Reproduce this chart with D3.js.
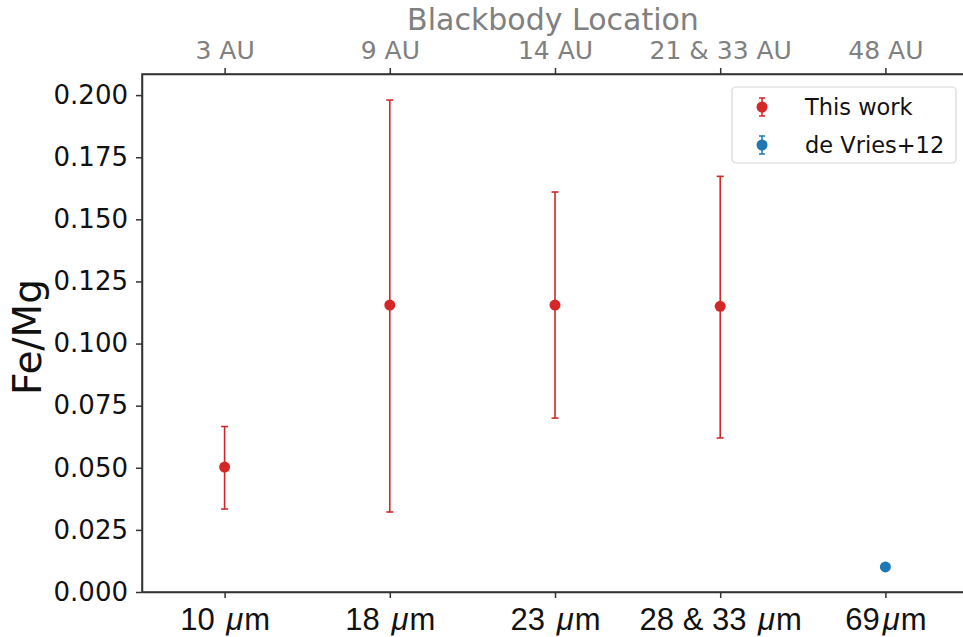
<!DOCTYPE html>
<html>
<head>
<meta charset="utf-8">
<script src="https://cdn.jsdelivr.net/npm/d3@7"></script>
<style>
	body { margin: 0; background: #fff; }
	svg { display: block; font-family: "DejaVu Sans", sans-serif; }
</style>
</head>
<body>
<div id="chart"></div>
<script>
// bands: wavelength + blackbody location
const bandLabels = ["10", "18", "23", "28 & 33", "69"];
const auLabels = ["3 AU", "9 AU", "14 AU", "21 & 33 AU", "48 AU"];

// Fe/Mg, this work
const workIdx = [0, 1, 2, 3];
const workVal = [0.0503, 0.1155, 0.1155, 0.1150];
const workLow = [0.0334, 0.0322, 0.0700, 0.0620];
const workHigh = [0.0666, 0.1980, 0.1610, 0.1673];

// de Vries+12
const dvIdx = [4];
const dvVal = [0.0101];

const yTicks = [0, 0.025, 0.05, 0.075, 0.1, 0.125, 0.15, 0.175, 0.2];

const red = "#d62728";
const blue = "#1f77b4";
const width = 963, height = 637;
const plot = { left: 142, top: 74, right: 968, bottom: 592 };

const svg = d3.select("#chart").append("svg")
		.attr("width", width)
		.attr("height", height);

const x = d3.scaleLinear()
		.domain([-0.5, 4.5])
		.range([plot.left, plot.right]);

const y = d3.scaleLinear()
		.domain([0, 0.2085])
		.range([plot.bottom, plot.top]);

// axes
const bottomAxis = svg.append("g")
		.attr("transform", `translate(0, ${plot.bottom})`)
		.call(d3.axisBottom(x).tickValues(d3.range(5)).tickSize(6).tickSizeOuter(0).tickFormat(""));

bottomAxis.selectAll(".tick")
	.append("text")
		.attr("y", 38)
		.attr("text-anchor", "middle")
		.attr("fill", "#111")
		.style("font-size", "31px")
		.each(function(d) {
			const t = d3.select(this);
			t.append("tspan").text(bandLabels[d] + (d === 4 ? "" : " "));
			t.append("tspan").attr("dx", 3).style("font-style", "italic").text("\u03bc");
			t.append("tspan").attr("dx", 1).text("m");
		});

const topAxis = svg.append("g")
		.attr("transform", `translate(0, ${plot.top})`)
		.call(d3.axisTop(x).tickValues(d3.range(5)).tickSize(6).tickSizeOuter(0)
			.tickFormat((d) => auLabels[d]));

topAxis.selectAll("text")
		.attr("y", -15)
		.attr("fill", "#808080")
		.style("font-size", "25px")
		.style("font-family", "DejaVu Sans");

const leftAxis = svg.append("g")
		.attr("transform", `translate(${plot.left}, 0)`)
		.call(d3.axisLeft(y).tickValues(yTicks).tickSize(6).tickSizeOuter(0)
			.tickFormat(d3.format(".3f")));

leftAxis.selectAll("text")
		.attr("x", -14)
		.attr("fill", "#111")
		.style("font-size", "26px")
		.style("font-family", "DejaVu Sans");

svg.selectAll(".domain, .tick line")
		.attr("stroke", "#333")
		.attr("stroke-width", 1.5);

// spines
svg.append("rect")
		.attr("x", plot.left)
		.attr("y", plot.top)
		.attr("width", plot.right - plot.left)
		.attr("height", plot.bottom - plot.top)
		.attr("fill", "none")
		.attr("stroke", "#333")
		.attr("stroke-width", 1.5);

// titles
svg.append("text")
		.attr("x", 553)
		.attr("y", 30)
		.attr("text-anchor", "middle")
		.attr("fill", "#808080")
		.style("font-size", "30px")
		.text("Blackbody Location");

svg.append("text")
		.attr("transform", "translate(41, 337) rotate(-90)")
		.attr("text-anchor", "middle")
		.attr("fill", "#111")
		.style("font-size", "39px")
		.text("Fe/Mg");

// error bars
const bars = svg.append("g")
		.selectAll("g")
		.data(workIdx).enter()
	.append("g")
		.attr("stroke", red)
		.attr("stroke-width", 1.6);

bars.append("line")
		.attr("x1", (d) => x(d)).attr("x2", (d) => x(d))
		.attr("y1", (d, i) => y(workLow[i]))
		.attr("y2", (d, i) => y(workHigh[i]));

bars.append("line")
		.attr("x1", (d) => x(d) - 3.5).attr("x2", (d) => x(d) + 3.5)
		.attr("y1", (d, i) => y(workLow[i])).attr("y2", (d, i) => y(workLow[i]));

bars.append("line")
		.attr("x1", (d) => x(d) - 3.5).attr("x2", (d) => x(d) + 3.5)
		.attr("y1", (d, i) => y(workHigh[i])).attr("y2", (d, i) => y(workHigh[i]));

svg.append("g")
		.selectAll("circle")
		.data(workIdx).enter()
	.append("circle")
		.attr("cx", (d) => x(d))
		.attr("cy", (d, i) => y(workVal[i]))
		.attr("r", 5.5)
		.attr("fill", red);

svg.append("g")
		.selectAll("circle")
		.data(dvIdx).enter()
	.append("circle")
		.attr("cx", (d) => x(d))
		.attr("cy", (d, i) => y(dvVal[i]))
		.attr("r", 5.5)
		.attr("fill", blue);

// legend
const legend = svg.append("g")
		.attr("transform", "translate(732, 87)");

legend.append("rect")
		.attr("width", 224)
		.attr("height", 76)
		.attr("rx", 4)
		.attr("fill", "#fff")
		.attr("stroke", "#d8d8d8")
		.attr("stroke-width", 1.2);

const entries = legend.selectAll("g.entry")
		.data([{ name: "This work", color: red }, { name: "de Vries+12", color: blue }]).enter()
	.append("g")
		.attr("class", "entry")
		.attr("transform", (d, i) => `translate(30, ${20 + i * 38})`);

entries.append("path")
		.attr("d", "M0,-9V9M-3,-9H3M-3,9H3")
		.attr("stroke", (d) => d.color)
		.attr("stroke-width", 1.5);

entries.append("circle")
		.attr("r", 5.5)
		.attr("fill", (d) => d.color);

entries.append("text")
		.attr("x", 43)
		.attr("y", 8)
		.attr("fill", "#111")
		.style("font-size", "22.5px")
		.text((d) => d.name);
</script>
</body>
</html>
